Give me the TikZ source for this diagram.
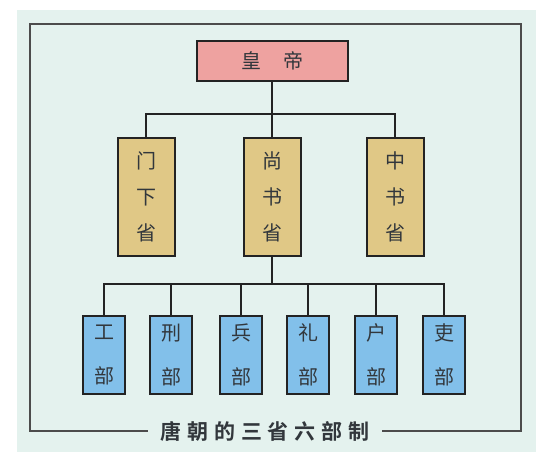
\documentclass[tikz,border=0pt]{standalone}
\usepackage{fontspec}
\setmainfont{Noto Sans CJK SC}
\newfontfamily\titlefont[LetterSpace=28]{Noto Sans CJK SC Bold}
\definecolor{bgcyan}{RGB}{228,242,238}
\definecolor{emppink}{RGB}{238,162,160}
\definecolor{shengtan}{RGB}{224,200,134}
\definecolor{bublue}{RGB}{130,192,234}
\definecolor{linegray}{RGB}{35,35,35}
\definecolor{textgray}{RGB}{50,55,60}
\begin{document}
\begin{tikzpicture}[%
      x=1pt,y=-1pt,
      box/.style={rectangle,draw=linegray,line width=2pt,align=center,inner sep=0pt,text=textgray},
      emp/.style={box,fill=emppink,minimum width=151pt,minimum height=40pt,font=\fontsize{20}{22}\selectfont},
      sheng/.style={box,fill=shengtan,minimum width=57pt,minimum height=118pt,font=\fontsize{20}{36}\selectfont},
      bu/.style={box,fill=bublue,minimum width=42pt,minimum height=78pt,font=\fontsize{20}{44}\selectfont},
      link/.style={line width=2pt,draw=linegray}
      ]
      \useasboundingbox (0,0) rectangle (536,468);
      \fill[bgcyan] (17,10) rectangle (536,452);
      \draw[line width=1.5pt,draw=black!70] (30,24) rectangle (521,431);
      \draw (272,61) node[emp] (E) {皇\hspace{22pt}帝};
      \draw (146,197) node[sheng] (MX) {门\\下\\省};
      \draw (272,197) node[sheng] (SS) {尚\\书\\省};
      \draw (395,197) node[sheng] (ZS) {中\\书\\省};
      \foreach \x/\n/\c in {104/GB/工,171/XB/刑,241/BB/兵,308/LB/礼,376/HB/户,444/YB/吏}
        \draw (\x,355) node[bu] (\n) {\c\\部};
      \coordinate (J1) at (272,114);
      \coordinate (J2) at (272,284);
      \draw[link] (E) -- (SS);
      \draw[link] (MX.north) |- (J1) -| (ZS.north);
      \draw[link] (SS) -- (J2);
      \draw[link] (GB.north) |- (J2) -| (YB.north);
      \foreach \n in {XB,BB,LB,HB}
        \draw[link] (\n.north) -- (\n.north |- J2);
      \draw (265,431) node[fill=bgcyan,inner xsep=12pt,text=textgray,font=\titlefont\fontsize{21}{24}\selectfont] (T) {唐朝的三省六部制};
    \end{tikzpicture}
\end{document}
